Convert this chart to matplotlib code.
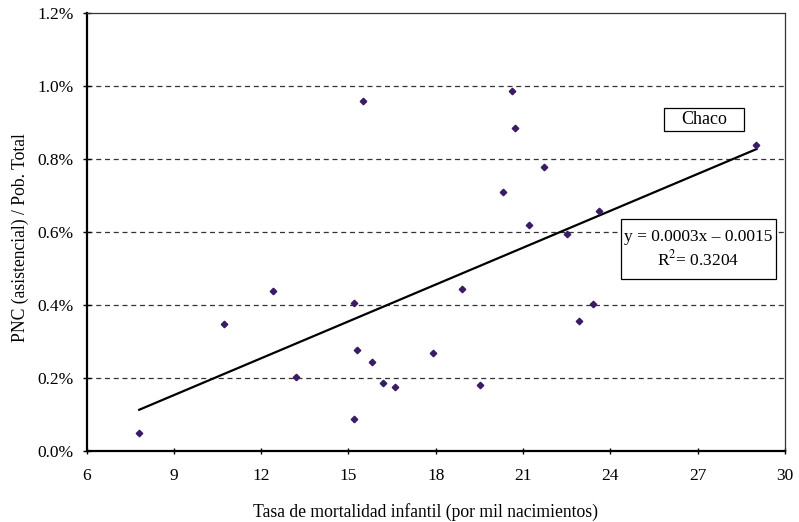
import matplotlib
matplotlib.use('Agg')
import matplotlib.pyplot as plt
from matplotlib.patches import Rectangle
from matplotlib.ticker import PercentFormatter
import numpy as np

# tasa de mortalidad infantil vs PNC asistencial / poblacion total
tmi = [7.81, 10.71, 12.41, 13.21, 15.20, 15.31, 15.81, 16.20, 16.61, 15.20,
       15.51, 17.91, 18.91, 19.51, 20.61, 20.71, 20.31, 21.71, 21.21, 22.51,
       23.61, 23.41, 22.91, 29.02]
pnc = [0.00049, 0.00348, 0.00439, 0.00203, 0.00407, 0.00277, 0.00244, 0.00188,
       0.00176, 0.00089, 0.00959, 0.00269, 0.00445, 0.00181, 0.00987, 0.00885,
       0.00709, 0.00779, 0.00621, 0.00595, 0.00659, 0.00403, 0.00356, 0.00838]

x = np.array(tmi)
y = np.array(pnc)
slope, intercept = np.polyfit(x, y, 1)
xs = np.array([x.min(), x.max()])

plt.rcParams['font.family'] = ['Liberation Serif', 'DejaVu Serif']
plt.rcParams['mathtext.fontset'] = 'stix'

fig = plt.figure(figsize=(7.99, 5.22), dpi=100)
ax = fig.add_axes([0.1083, 0.1354, 0.8742, 0.8396])

for g in [0.002, 0.004, 0.006, 0.008, 0.010]:
    ax.axhline(g, color='#333333', linestyle=(0, (4, 3)), linewidth=0.9, zorder=1)

ax.plot(xs, slope * xs + intercept, color='black', linewidth=1.6, zorder=2)
ax.plot(x, y, 'D', color='#3b1a66', markersize=3.3, zorder=3)

ax.set_xlim(6, 30)
ax.set_ylim(0, 0.012)
ax.set_xticks(range(6, 31, 3))
ax.set_yticks([0, 0.002, 0.004, 0.006, 0.008, 0.010, 0.012])
ax.yaxis.set_major_formatter(PercentFormatter(1, decimals=1))
ax.tick_params(labelsize=12.5, direction='inout', width=1, colors='black')
ax.tick_params(axis='x', length=4.5, pad=10)
ax.tick_params(axis='y', length=6, pad=6.5)

ax.spines['left'].set_linewidth(1.6)
ax.spines['bottom'].set_linewidth(1.6)
ax.spines['top'].set_linewidth(0.9)
ax.spines['right'].set_linewidth(0.9)
ax.spines['top'].set_color('#333333')
ax.spines['right'].set_color('#333333')

ax.set_xlabel('Tasa de mortalidad infantil (por mil nacimientos)', fontsize=12.7)
ax.xaxis.set_label_coords(0.4846, -0.118)
ax.set_ylabel('PNC (asistencial) / Pob. Total', fontsize=12.7)
ax.yaxis.set_label_coords(-0.083, 0.487)

# cuadro "Chaco"
ax.add_patch(Rectangle((0.8272, 0.7308), 0.1145, 0.0531, transform=ax.transAxes,
                       facecolor='white', edgecolor='black', linewidth=0.9, zorder=4))
ax.text(0.8840, 0.7575, 'Chaco', transform=ax.transAxes, fontsize=13,
        ha='center', va='center', zorder=5)

# cuadro de la ecuacion de tendencia
ax.add_patch(Rectangle((0.7648, 0.3924), 0.2228, 0.1383, transform=ax.transAxes,
                       facecolor='white', edgecolor='black', linewidth=0.9, zorder=4))
ax.text(0.8762, 0.4616, 'y = 0.0003x – 0.0015\nR$^{2}$= 0.3204', transform=ax.transAxes,
        fontsize=12.5, ha='center', va='center', linespacing=1.3, zorder=5)

fig.savefig('out.png', dpi=100)
